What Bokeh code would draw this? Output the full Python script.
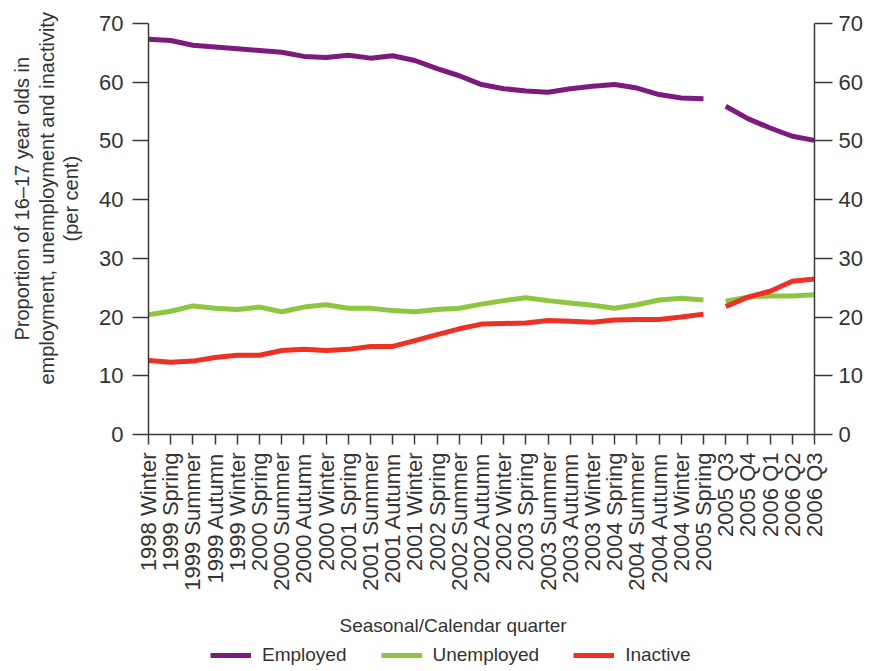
import math
from bokeh.plotting import figure
from bokeh.layouts import column
from bokeh.models import Range1d, LinearAxis, FixedTicker, Title, Legend, LegendItem
from bokeh.embed import file_html
from bokeh.resources import INLINE

quarters = [
    "1998 Winter", "1999 Spring", "1999 Summer", "1999 Autumn", "1999 Winter",
    "2000 Spring", "2000 Summer", "2000 Autumn", "2000 Winter", "2001 Spring",
    "2001 Summer", "2001 Autumn", "2001 Winter", "2002 Spring", "2002 Summer",
    "2002 Autumn", "2002 Winter", "2003 Spring", "2003 Summer", "2003 Autumn",
    "2003 Winter", "2004 Spring", "2004 Summer", "2004 Autumn", "2004 Winter",
    "2005 Spring", "2005 Q3", "2005 Q4", "2006 Q1", "2006 Q2", "2006 Q3",
]
employed = [67.3, 67.1, 66.3, 66.0, 65.7, 65.4, 65.1, 64.4, 64.2, 64.6,
            64.1, 64.5, 63.7, 62.3, 61.1, 59.6, 58.9, 58.5, 58.3, 58.9,
            59.3, 59.6, 59.0, 57.9, 57.3, 57.2, 55.9, 53.8, 52.2, 50.8, 50.1]
unemployed = [20.4, 21.0, 21.9, 21.5, 21.3, 21.7, 20.9, 21.7, 22.1, 21.5,
              21.5, 21.1, 20.9, 21.3, 21.5, 22.2, 22.8, 23.3, 22.8, 22.4,
              22.0, 21.5, 22.1, 22.9, 23.2, 22.9, 22.7, 23.4, 23.6, 23.6, 23.8]
inactive = [12.6, 12.3, 12.5, 13.1, 13.5, 13.5, 14.3, 14.5, 14.3, 14.5,
            15.0, 15.0, 16.0, 17.0, 18.0, 18.8, 18.9, 19.0, 19.4, 19.3,
            19.1, 19.5, 19.6, 19.6, 20.0, 20.5, 21.8, 23.4, 24.4, 26.1, 26.5]
y_ticks = [0, 10, 20, 30, 40, 50, 60, 70]
last_seasonal = "2005 Spring"  # series switches from seasonal to calendar quarters
y_title_lines = ["Proportion of 16\u201317 year olds in",
                 "employment, unemployment and inactivity",
                 "(per cent)"]
x_title = "Seasonal/Calendar quarter"

series = [
    ("Employed", employed, "#7B1B7E"),
    ("Unemployed", unemployed, "#8DC63F"),
    ("Inactive", inactive, "#EE3124"),
]

FONT = "Liberation Sans"
TXT = "#333333"
AX = "#3a3a3a"

idx = list(range(len(quarters)))
split = quarters.index(last_seasonal) + 1

p = figure(frame_width=666, frame_height=411, output_backend="svg", toolbar_location=None,
           x_range=Range1d(0, len(quarters) - 1), y_range=Range1d(y_ticks[0], y_ticks[-1]),
           min_border_left=148, min_border_right=49, min_border_top=23, min_border_bottom=206)
p.outline_line_color = None
p.xgrid.visible = False
p.ygrid.visible = False
p.background_fill_color = "white"
p.border_fill_color = "white"

p.extra_y_ranges = {"right": Range1d(y_ticks[0], y_ticks[-1])}
p.add_layout(LinearAxis(y_range_name="right"), "right")

for ax in p.yaxis:
    ax.ticker = FixedTicker(ticks=y_ticks)
    ax.major_label_text_font = FONT
    ax.major_label_text_font_size = "22px"
    ax.major_label_text_color = TXT
    ax.axis_line_color = AX
    ax.axis_line_width = 1.5
    ax.major_tick_line_color = AX
    ax.major_tick_line_width = 1.5
    ax.major_tick_in = 0
    ax.minor_tick_line_color = None
p.yaxis[0].major_tick_out = 16
p.yaxis[0].major_label_standoff = 9
p.yaxis[1].major_tick_out = 18
p.yaxis[1].major_label_standoff = 6

xa = p.xaxis[0]
xa.ticker = FixedTicker(ticks=idx)
xa.major_label_overrides = {i: q for i, q in enumerate(quarters)}
xa.major_label_orientation = math.pi / 2
xa.major_label_text_font = FONT
xa.major_label_text_font_size = "22px"
xa.major_label_text_color = TXT
xa.major_label_standoff = 8
xa.axis_line_color = AX
xa.axis_line_width = 1.5
xa.major_tick_line_color = AX
xa.major_tick_line_width = 1.5
xa.major_tick_in = 0
xa.major_tick_out = 10
xa.minor_tick_line_color = None

for name, vals, color in series:
    p.line(idx[:split], vals[:split], line_color=color, line_width=5, line_join="round")
    p.line(idx[split:], vals[split:], line_color=color, line_width=5, line_join="round")

# y-axis title: spacer, then three stacked lines, innermost (closest to axis) first
p.add_layout(Title(text=" ", text_font_size="1px", standoff=11), "left")
for line, standoff, off in zip(reversed(y_title_lines), [1, 0, 2], [193, 50, 94]):
    p.add_layout(Title(text=line, align="left", offset=off, standoff=standoff,
                       text_font=FONT, text_font_size="20px",
                       text_font_style="normal", text_color=TXT), "left")

# x-axis title with a small spacer above it
p.add_layout(Title(text=" ", text_font_size="1px", standoff=16), "below")
p.add_layout(Title(text=x_title, align="left", offset=191, standoff=0,
                   text_font=FONT, text_font_size="19px", text_font_style="normal",
                   text_color=TXT), "below")

# legend strip underneath the chart (its frame is aligned with the chart's frame);
# the series are drawn again here only to give the legend its glyphs, off-range
lg = figure(width=863, height=29, output_backend="svg", toolbar_location=None,
            x_range=Range1d(0, len(quarters) - 1), y_range=Range1d(-2, -1),
            x_axis_location=None, y_axis_location=None, min_border=0)
lg.outline_line_color = None
lg.xgrid.visible = False
lg.ygrid.visible = False
items = []
for name, vals, color in series:
    r = lg.line(idx, vals, line_color=color, line_width=5)
    items.append(LegendItem(label=name, renderers=[r]))
legend = Legend(items=items, orientation="horizontal", location=(62, 3),
                padding=0, margin=0, spacing=34, glyph_width=41, glyph_height=20,
                label_standoff=11, label_text_font=FONT, label_text_font_size="19px",
                label_text_color=TXT, border_line_color=None,
                background_fill_alpha=0)
lg.add_layout(legend)

open("out.html", "w").write(file_html(column(p, lg), INLINE))
